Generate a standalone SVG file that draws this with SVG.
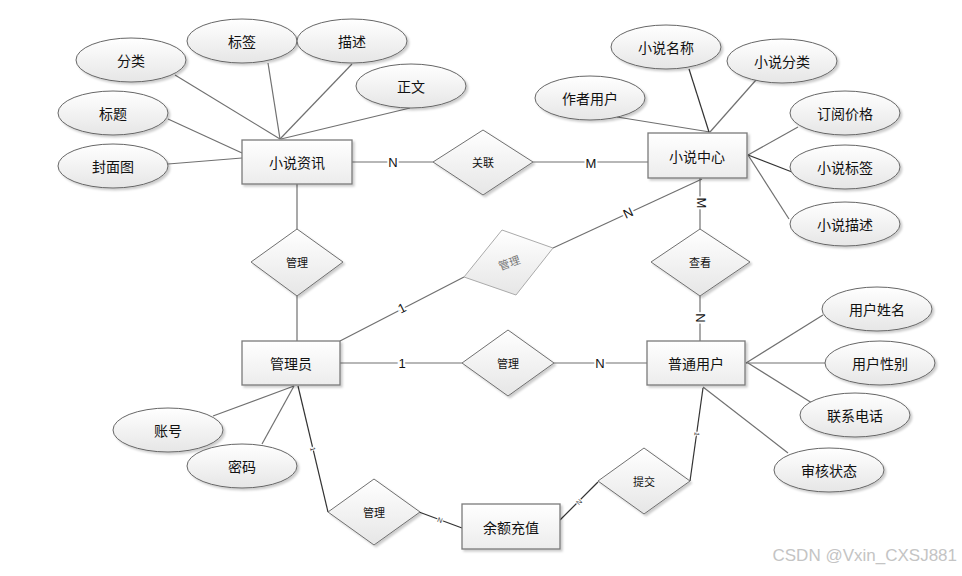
<svg xmlns="http://www.w3.org/2000/svg" width="962" height="576" viewBox="0 0 962 576">
<defs>
<linearGradient id="gE" x1="0" y1="0" x2="0" y2="1"><stop offset="0" stop-color="#ffffff"/><stop offset="1" stop-color="#e6e6e6"/></linearGradient>
<linearGradient id="gB" x1="0" y1="0" x2="0" y2="1"><stop offset="0" stop-color="#ffffff"/><stop offset="1" stop-color="#ececec"/></linearGradient>
<filter id="sh" x="-10%" y="-10%" width="130%" height="140%"><feDropShadow dx="2" dy="2" stdDeviation="1" flood-color="#000" flood-opacity="0.2"/></filter>
<style>
.ent{fill:url(#gB);stroke:#7a7a7a;stroke-width:1.3;filter:url(#sh)}
.att{fill:url(#gE);stroke:#666;stroke-width:1;filter:url(#sh)}
.rel{fill:url(#gE);stroke:#707070;stroke-width:1;filter:url(#sh)}
.t{font-family:"Noto Sans CJK SC","Liberation Sans",sans-serif;font-size:14px;fill:#111;text-anchor:middle;dominant-baseline:central}
.r{font-family:"Noto Sans CJK SC","Liberation Sans",sans-serif;font-size:11px;fill:#111;text-anchor:middle;dominant-baseline:central}
.c line{stroke:#707070;stroke-width:1.2}
.c .d{stroke:#333}
.l{font-family:"Liberation Sans",sans-serif;font-size:13px;fill:#111;text-anchor:middle;dominant-baseline:central;stroke:#fff;stroke-width:4;paint-order:stroke}
.s{font-family:"Liberation Sans",sans-serif;font-size:7px;fill:#333;text-anchor:middle;dominant-baseline:central;stroke:#fff;stroke-width:2;paint-order:stroke}
</style>
</defs>
<rect width="962" height="576" fill="#fff"/>
<g id="connectors" class="c">
<line x1="175" y1="75" x2="280" y2="139"/>
<line x1="268" y1="63" x2="280" y2="139"/>
<line x1="352" y1="64" x2="280" y2="139"/>
<line x1="410" y1="108" x2="281" y2="139"/>
<line x1="168" y1="119" x2="242" y2="153"/>
<line x1="168" y1="164" x2="242" y2="158"/>
<line x1="352" y1="162" x2="433" y2="162"/>
<line x1="533" y1="162" x2="648" y2="162"/>
<line x1="617" y1="117" x2="710" y2="132"/>
<line class="d" x1="689" y1="69" x2="709" y2="132"/>
<line x1="756" y1="80" x2="710" y2="132"/>
<line x1="798" y1="127" x2="748" y2="155"/>
<line class="d" x1="748" y1="155" x2="792" y2="172"/>
<line x1="748" y1="155" x2="789" y2="219"/>
<line x1="700" y1="178" x2="700" y2="229"/>
<line x1="702" y1="179" x2="553" y2="248"/>
<line x1="297" y1="184" x2="297" y2="229"/>
<line x1="297" y1="296" x2="297" y2="341"/>
<line x1="340" y1="341" x2="464" y2="277"/>
<line x1="700" y1="296" x2="700" y2="341"/>
<line x1="340" y1="363" x2="462" y2="363"/>
<line x1="554" y1="363" x2="647" y2="363"/>
<line x1="746" y1="363" x2="823" y2="315"/>
<line x1="746" y1="363" x2="825" y2="363"/>
<line x1="748" y1="363" x2="812" y2="403"/>
<line x1="703" y1="387" x2="788" y2="453"/>
<line class="d" x1="703" y1="388" x2="690" y2="481"/>
<line x1="213" y1="416" x2="294" y2="386"/>
<line x1="262" y1="444" x2="294" y2="386"/>
<line class="d" x1="298" y1="386" x2="328" y2="512"/>
<line class="d" x1="419" y1="512" x2="462" y2="528"/>
<line class="d" x1="560" y1="520" x2="598" y2="482"/>
<text class="l" x="393" y="162">N</text>
<text class="l" x="591" y="163">M</text>
<text class="l" transform="translate(701 203) rotate(90)">M</text>
<text class="l" transform="translate(628 213) rotate(-25)">N</text>
<text class="l" transform="translate(402 308) rotate(-27)">1</text>
<text class="l" transform="translate(700 318) rotate(90)">N</text>
<text class="l" x="402" y="363">1</text>
<text class="l" x="600" y="363">N</text>
<text class="s" transform="translate(313 449) rotate(77)">1</text>
<text class="s" transform="translate(440 520) rotate(20)">N</text>
<text class="s" transform="translate(579 502) rotate(-45)">N</text>
<text class="s" transform="translate(697 434) rotate(98)">1</text>
</g>
<g id="n-xszx"><rect class="ent" x="242" y="140" width="110" height="44"/><text class="t" x="297" y="162">小说资讯</text></g>
<g id="a-fenlei"><ellipse class="att" cx="131" cy="60" rx="55" ry="22"/><text class="t" x="131" y="60">分类</text></g>
<g id="a-biaoqian"><ellipse class="att" cx="242" cy="41" rx="55" ry="22"/><text class="t" x="242" y="41">标签</text></g>
<g id="a-miaoshu"><ellipse class="att" cx="352" cy="41" rx="55" ry="22"/><text class="t" x="352" y="41">描述</text></g>
<g id="a-zhengwen"><ellipse class="att" cx="411" cy="86" rx="55" ry="22"/><text class="t" x="411" y="86">正文</text></g>
<g id="a-biaoti"><ellipse class="att" cx="113" cy="113" rx="55" ry="22"/><text class="t" x="113" y="113">标题</text></g>
<g id="a-fengmian"><ellipse class="att" cx="113" cy="166" rx="55" ry="22"/><text class="t" x="113" y="166">封面图</text></g>
<g id="r-guanlian"><polygon class="rel" points="483,130 533,162 483,195 433,162"/><text class="r" x="483" y="162">关联</text></g>
<g id="n-xszx2"><rect class="ent" x="648" y="133" width="99" height="45"/><text class="t" x="697" y="156">小说中心</text></g>
<g id="a-xsmc"><ellipse class="att" cx="666" cy="47" rx="55" ry="22"/><text class="t" x="666" y="47">小说名称</text></g>
<g id="a-xsfl"><ellipse class="att" cx="782" cy="61" rx="55" ry="22"/><text class="t" x="782" y="61">小说分类</text></g>
<g id="a-zzyh"><ellipse class="att" cx="590" cy="98" rx="55" ry="22"/><text class="t" x="590" y="98">作者用户</text></g>
<g id="a-dyjg"><ellipse class="att" cx="845" cy="113" rx="55" ry="22"/><text class="t" x="845" y="113">订阅价格</text></g>
<g id="a-xsbq"><ellipse class="att" cx="845" cy="167" rx="55" ry="22"/><text class="t" x="845" y="167">小说标签</text></g>
<g id="a-xsms"><ellipse class="att" cx="845" cy="224" rx="55" ry="22"/><text class="t" x="845" y="224">小说描述</text></g>
<g id="r-guanli1"><polygon class="rel" points="297,229 343,262 297,296 251,262"/><text class="r" x="297" y="262">管理</text></g>
<g id="r-guanli2"><polygon points="502,230 553,248 516,295 464,277" fill="url(#gE)" stroke="#aaa" stroke-width="1"/><text class="r" style="fill:#777" transform="translate(509 262) rotate(-20)">管理</text></g>
<g id="r-chakan"><polygon class="rel" points="700,229 750,262 700,296 651,262"/><text class="r" x="700" y="262">查看</text></g>
<g id="n-gly"><rect class="ent" x="242" y="341" width="98" height="44"/><text class="t" x="291" y="363">管理员</text></g>
<g id="r-guanli3"><polygon class="rel" points="508,330 554,363 508,396 462,363"/><text class="r" x="508" y="363">管理</text></g>
<g id="n-ptyh"><rect class="ent" x="647" y="341" width="98" height="44"/><text class="t" x="696" y="363">普通用户</text></g>
<g id="a-yhxm"><ellipse class="att" cx="877" cy="309" rx="55" ry="22"/><text class="t" x="877" y="309">用户姓名</text></g>
<g id="a-yhxb"><ellipse class="att" cx="880" cy="363" rx="55" ry="22"/><text class="t" x="880" y="363">用户性别</text></g>
<g id="a-lxdh"><ellipse class="att" cx="855" cy="415" rx="55" ry="22"/><text class="t" x="855" y="415">联系电话</text></g>
<g id="a-shzt"><ellipse class="att" cx="829" cy="470" rx="55" ry="22"/><text class="t" x="829" y="470">审核状态</text></g>
<g id="a-zh"><ellipse class="att" cx="168" cy="430" rx="55" ry="22"/><text class="t" x="168" y="430">账号</text></g>
<g id="a-mm"><ellipse class="att" cx="242" cy="466" rx="55" ry="22"/><text class="t" x="242" y="466">密码</text></g>
<g id="r-guanli4"><polygon class="rel" points="374,479 420,512 374,545 328,512"/><text class="r" x="374" y="512">管理</text></g>
<g id="n-yecz"><rect class="ent" x="462" y="504" width="98" height="45"/><text class="t" x="511" y="527">余额充值</text></g>
<g id="r-tijiao"><polygon class="rel" points="644,448 690,481 644,514 598,481"/><text class="r" x="644" y="481">提交</text></g>
<text x="957" y="561" text-anchor="end" font-family="Liberation Sans, sans-serif" font-size="17" fill="#c4c4c4">CSDN @Vxin_CXSJ881</text>
</svg>
